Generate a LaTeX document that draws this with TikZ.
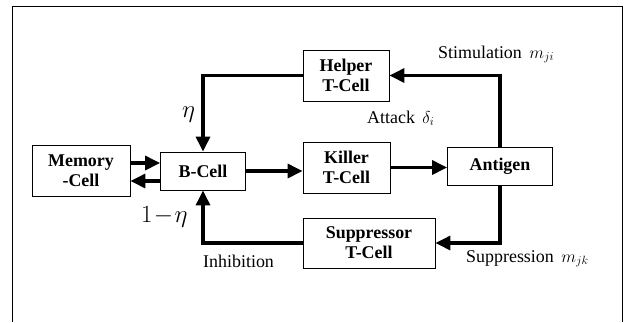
\documentclass[tikz,border=0pt]{standalone}
\usepackage{fontspec}
\setmainfont{Liberation Serif}
\usetikzlibrary{arrows.meta}

\begin{document}
\begin{tikzpicture}[
  x=1bp,y=-1bp,
  font=\fontsize{18}{20}\selectfont,
  cell/.style={draw=black,line width=0.8pt,fill=white,align=center,inner sep=0pt,
               font=\fontsize{18}{20}\selectfont\bfseries},
  flow/.style={line width=3.2pt,-{Triangle[length=15bp,width=14bp]}},
  lbl/.style={anchor=base west,inner sep=0pt}
]
\useasboundingbox (0,0) rectangle (626,322);
% frame
\draw[line width=0.7pt] (12,322) -- (12,6) -- (622,6) -- (622,322);

% cells
\node[cell,minimum width=98bp,minimum height=51bp] (mem) at (81,170.5) {Memory\\-Cell};
\node[cell,minimum width=85bp,minimum height=38bp] (bcell) at (203,171) {B-Cell};
\node[cell,minimum width=86bp,minimum height=51bp] (helper) at (346,75.5) {Helper\\T-Cell};
\node[cell,minimum width=87bp,minimum height=51bp] (killer) at (346.5,167.5) {Killer\\T-Cell};
\node[cell,minimum width=132bp,minimum height=50bp] (supp) at (369,243) {Suppressor\\T-Cell};
\node[cell,minimum width=105bp,minimum height=38bp] (antigen) at (500,166.5) {Antigen};

% connectors
\draw[flow] (helper.west) -| (bcell.north);
\draw[flow] (supp.west) -| (bcell.south);
\draw[flow] (bcell.east) -- (bcell.east -| killer.west);
\draw[flow] (killer.east) -- (killer.east -| antigen.west);
\draw[flow] (antigen.north) |- (helper.east);
\draw[flow] (antigen.south) |- (supp.east);
\draw[flow] ([yshift=7.5bp]mem.east) -- ([yshift=7.5bp]mem.east -| bcell.west);
\draw[flow] ([yshift=-10.5bp]mem.east -| bcell.west) -- ([yshift=-10.5bp]mem.east);

% labels
\node[lbl] (stim) at (438,58) {Stimulation\, $m_{ji}$};
\node[lbl] (attack) at (367,123) {Attack\, $\delta_i$};
\node[lbl] (suppr) at (466,262) {Suppression\, $m_{jk}$};
\node[lbl] (inhib) at (203,267) {Inhibition};
\node[lbl,font=\fontsize{27}{30}\selectfont] (eta) at (182,117) {$\eta$};
\node[lbl,font=\fontsize{27}{30}\selectfont] (oneeta) at (141,222) {$1\!-\!\eta$};
\end{tikzpicture}
\end{document}
